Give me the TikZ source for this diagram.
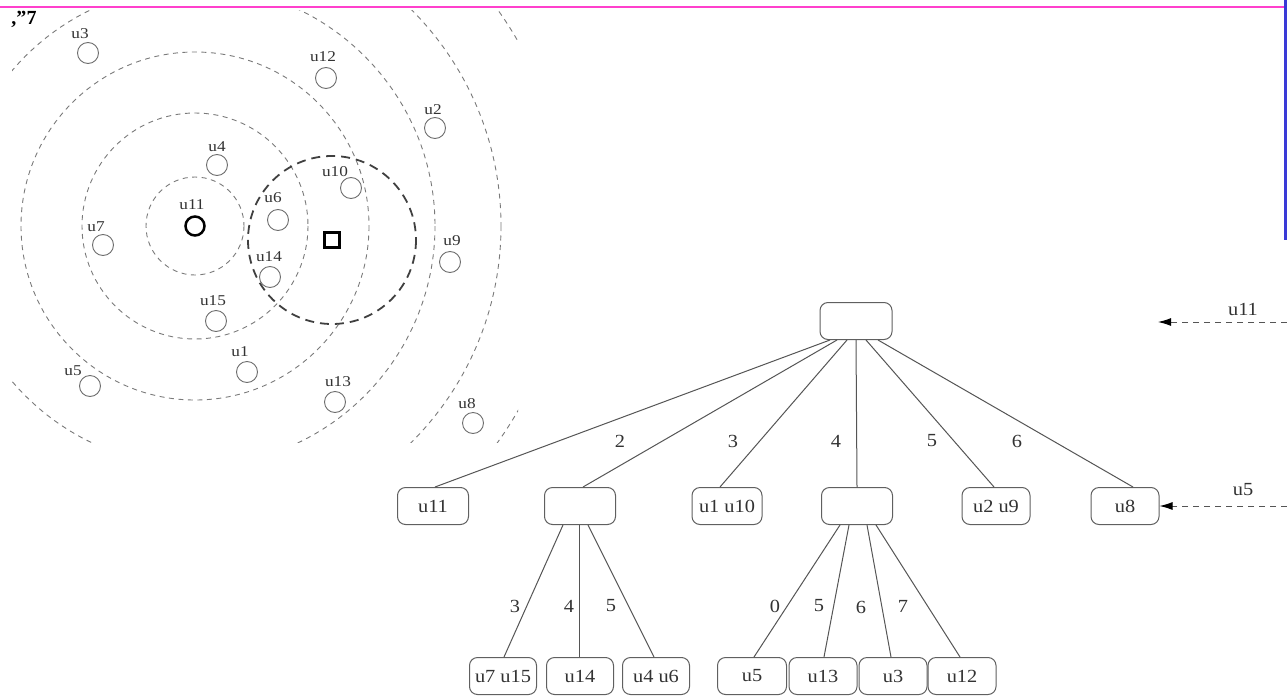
\documentclass[tikz,border=0pt]{standalone}
\usepackage{fontspec}
\setmainfont{Liberation Serif}
\newfontfamily\lblfont{Liberation Serif}[FakeStretch=1.15]
\newfontfamily\treefont{Liberation Serif}[FakeStretch=1.1]
\usetikzlibrary{calc,arrows.meta}
\definecolor{ringgray}{HTML}{7A7A7A}
\definecolor{ptgray}{HTML}{6E6E6E}
\definecolor{labgray}{HTML}{333333}
\definecolor{linegray}{HTML}{555555}
\definecolor{boxgray}{HTML}{606060}
\definecolor{bigringgray}{HTML}{404040}
\definecolor{topmag}{HTML}{FF40CC}
\definecolor{sideblue}{HTML}{3A3AD6}
\begin{document}
\begin{tikzpicture}[x=1pt,y=-1pt,
  ring/.style={draw=ringgray, dash pattern=on 5pt off 4.5pt, line width=0.9pt},
  bigring/.style={draw=bigringgray, dash pattern=on 9pt off 6pt, line width=1.8pt},
  pt/.style={circle, draw=ptgray, line width=0.9pt, minimum size=21pt, inner sep=0pt},
  ptlab/.style={font=\lblfont\fontsize{15}{15}\selectfont, text=labgray, inner sep=0pt},
  box/.style={draw=boxgray, rounded corners=8pt, line width=1pt, minimum height=37pt, inner sep=0pt, text=labgray, font=\treefont\fontsize{18.5}{18.5}\selectfont},
  edge/.style={draw=linegray, line width=1pt},
  elab/.style={font=\treefont\fontsize{18.5}{18.5}\selectfont, text=labgray, inner sep=0pt},
  feed/.style={draw=linegray, dash pattern=on 6pt off 5pt, line width=1pt, -{Latex[length=13pt,width=8pt,black]}}
]
\useasboundingbox (0,0) rectangle (1287,696);
\fill[white] (0,0) rectangle (1287,696);

% frame marks
\draw[topmag, line width=1.5pt] (0,7) -- (1284,7);
\draw[sideblue, line width=3pt] (1285.5,0) -- (1285.5,240);

% left panel
\node[inner sep=0pt, font=\bfseries\fontsize{20}{20}\selectfont] (mark) at (24,19) {,''7};
\coordinate (c) at (195,226);
\coordinate (sqc) at (332,240);
\begin{scope}
  \clip (12,10) rectangle (518,442);
  \foreach \r in {49,113,174,240,306,372} \draw[ring] (c) circle[radius=\r];
  \draw[bigring] (sqc) circle[radius=84];
\end{scope}

\node[circle, draw=black, line width=2.5pt, minimum size=19pt, inner sep=0pt] (p11) at (c) {};
\node[ptlab] (l11) at (192,205) {u11};
\node[draw=black, line width=2.5pt, minimum size=15pt, inner sep=0pt] (sq) at (sqc) {};

\node[pt] (p3) at (88,53) {};   \node[ptlab] (l3) at (80,34) {u3};
\node[pt] (p12) at (326,78) {}; \node[ptlab] (l12) at (323,57) {u12};
\node[pt] (p2) at (435,128) {}; \node[ptlab] (l2) at (433,110) {u2};
\node[pt] (p4) at (217,165) {}; \node[ptlab] (l4) at (217,147) {u4};
\node[pt] (p10) at (351,188) {}; \node[ptlab] (l10) at (335,172) {u10};
\node[pt] (p6) at (278,220) {}; \node[ptlab] (l6) at (273,198) {u6};
\node[pt] (p7) at (103,245) {}; \node[ptlab] (l7) at (96,227) {u7};
\node[pt] (p9) at (450,262) {}; \node[ptlab] (l9) at (452,241) {u9};
\node[pt] (p14) at (270,277) {}; \node[ptlab] (l14) at (269,257) {u14};
\node[pt] (p15) at (216,321) {}; \node[ptlab] (l15) at (213,301) {u15};
\node[pt] (p1) at (247,372) {}; \node[ptlab] (l1) at (240,352) {u1};
\node[pt] (p5) at (90,386) {};  \node[ptlab] (l5) at (73,371) {u5};
\node[pt] (p13) at (335,402) {}; \node[ptlab] (l13) at (338,382) {u13};
\node[pt] (p8) at (473,423) {}; \node[ptlab] (l8) at (467,404) {u8};

% tree
\node[box, minimum width=72pt] (root) at (856,321) {};
\node[box, minimum width=71pt] (c1) at (433,506) {u11};
\node[box, minimum width=71pt] (c2) at (580,506) {};
\node[box, minimum width=70pt] (c3) at (727,506) {u1 u10};
\node[box, minimum width=71pt] (c4) at (857,506) {};
\node[box, minimum width=68pt] (c5) at (996,506) {u2 u9};
\node[box, minimum width=68pt] (c6) at (1125,506) {u8};

\node[box, minimum width=67pt] (g1) at (503,676) {u7 u15};
\node[box, minimum width=67pt] (g2) at (580,676) {u14};
\node[box, minimum width=67pt] (g3) at (656,676) {u4 u6};
\node[box, minimum width=69pt] (g4) at (752,676) {u5};
\node[box, minimum width=68pt] (g5) at (823,676) {u13};
\node[box, minimum width=68pt] (g6) at (893,676) {u3};
\node[box, minimum width=68pt] (g7) at (962,676) {u12};

\draw[edge] ($(root.south)+(-26,0)$) -- ($(c1.north)+(2,0)$);
\draw[edge] ($(root.south)+(-19,0)$) -- ($(c2.north)+(3,0)$);
\draw[edge] ($(root.south)+(-9,0)$) -- ($(c3.north)+(-7,0)$);
\draw[edge] (root.south) -- (c4.north);
\draw[edge] ($(root.south)+(10,0)$) -- ($(c5.north)+(-2,0)$);
\draw[edge] ($(root.south)+(22,0)$) -- ($(c6.north)+(8,0)$);

\draw[edge] ($(c2.south)+(-17,0)$) -- ($(g1.north)+(1,0)$);
\draw[edge] ($(c2.south)+(-1,0)$) -- ($(g2.north)+(-1,0)$);
\draw[edge] ($(c2.south)+(8,0)$) -- ($(g3.north)+(-2,0)$);

\draw[edge] ($(c4.south)+(-17,0)$) -- ($(g4.north)+(2,0)$);
\draw[edge] ($(c4.south)+(-8,0)$) -- ($(g5.north)+(1,0)$);
\draw[edge] ($(c4.south)+(10,0)$) -- ($(g6.north)+(-2,0)$);
\draw[edge] ($(c4.south)+(19,0)$) -- ($(g7.north)+(-2,0)$);

\node[elab] (e2) at (620,441) {2};
\node[elab] (e3) at (733,441) {3};
\node[elab] (e4) at (836,441) {4};
\node[elab] (e5) at (932,441) {5};
\node[elab] (e6) at (1017,441) {6};
\node[elab] (f3) at (515,606) {3};
\node[elab] (f4) at (569,606) {4};
\node[elab] (f5) at (611,606) {5};
\node[elab] (h0) at (775,606) {0};
\node[elab] (h5) at (819,606) {5};
\node[elab] (h6) at (861,607) {6};
\node[elab] (h7) at (903,606) {7};

% incoming arrows
\coordinate (a1s) at (1287,322);
\coordinate (a1e) at (1158,322);
\draw[feed] (a1s) -- (a1e);
\node[elab] (t11) at (1243,309) {u11};
\coordinate (a2s) at (1287,506);
\draw[feed] (a2s) -- (c6.east);
\node[elab] (t5) at (1243,490) {u5};
\end{tikzpicture}
\end{document}
